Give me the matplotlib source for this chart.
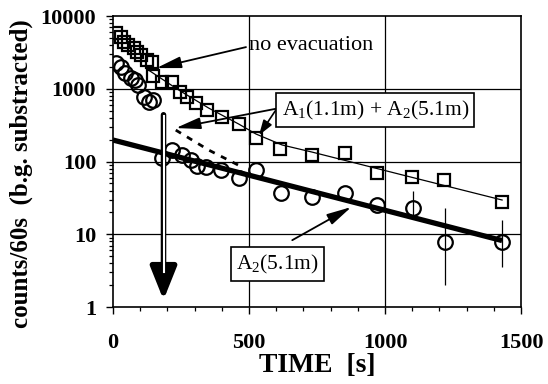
import matplotlib
matplotlib.use("Agg")
import matplotlib.pyplot as plt
import numpy as np
from matplotlib.ticker import FixedLocator, NullFormatter, LogLocator

# ---------------- data ----------------
sq_t = [13, 28, 39, 57, 76, 87, 105, 124, 142, 149, 179, 216, 245, 271, 304, 345,
        400, 463, 526, 615, 733, 854, 972, 1098, 1216, 1430]
sq_c = [5840, 5140, 4390, 3990, 3630, 3200, 2910, 2480, 2330, 1500, 1240, 1240, 902,
        771, 637, 511, 409, 328, 210, 149, 123, 131, 69.5, 61, 55.7, 27.7]

ci_t = [13, 31, 46, 65, 83, 94, 113, 131, 149, 179, 216, 253, 286, 308, 341, 397,
        463, 526, 618, 733, 851, 972, 1102, 1220, 1430]
ci_c = [2260, 1990, 1650, 1400, 1320, 1130, 771, 658, 700, 112, 144, 123, 105, 87,
        84, 76, 59, 76, 37, 32.5, 37, 25, 23, 7.8, 7.8]

# error bars (lower / upper ends) on some circles
err_t = [1102, 1220, 1430]
err_lo = [16, 2.0, 3.5]
err_hi = [40, 23, 15.5]

# fit curve through squares (A1 + A2)
fit2_t = [131, 242, 352, 463, 526, 622, 732, 1053, 1430]
fit2_c = [1810, 962, 544, 327, 239, 169, 135, 67, 29.6]

# A2(5.1m) fit line
fitA2_t = [0, 1430]
fitA2_c = [198, 8.2]

# dashed component
dash_t = [231, 352, 482]
dash_c = [271, 144, 81.5]

x_ticks = [0, 500, 1000, 1500]
y_ticks = [1, 10, 100, 1000, 10000]
y_ticklabels = ["1", "10", "100", "1000", "10000"]

# ---------------- figure ----------------
plt.rcParams['font.family'] = ['Liberation Serif', 'DejaVu Serif']
plt.rcParams['mathtext.fontset'] = 'custom'
plt.rcParams['mathtext.rm'] = 'Liberation Serif'
plt.rcParams['mathtext.it'] = 'Liberation Serif:italic'

fig = plt.figure(figsize=(5.48, 3.84), dpi=100)
ax = fig.add_axes([0.206, 0.2005, 0.745, 0.7575])

ax.set_yscale('log')
ax.set_xlim(0, 1500)
ax.set_ylim(1, 10000)

# grid
for xv in [500, 1000]:
    ax.axvline(xv, color='black', lw=0.9, zorder=1)
for yv in [10, 100, 1000]:
    ax.axhline(yv, color='black', lw=0.9, zorder=1)

# lines
ax.plot(fitA2_t, fitA2_c, color='black', lw=3.8, zorder=3, solid_capstyle='butt')
ax.plot(fit2_t, fit2_c, color='black', lw=0.9, zorder=3)
ax.plot(dash_t, dash_c, color='black', lw=2.0, ls=(0, (2.2, 2.5)), zorder=3)

# error bars
ax.vlines(err_t, err_lo, err_hi, color='black', lw=0.9, zorder=2)

# markers
ax.plot(sq_t, sq_c, ls='none', marker='s', ms=9, mfc='none', mec='black', mew=1.6, zorder=4)
ax.plot(ci_t, ci_c, ls='none', marker='o', ms=10.5, mfc='none', mec='black', mew=1.6, zorder=4)

# ticks
ax.xaxis.set_major_locator(FixedLocator(x_ticks))
ax.xaxis.set_minor_locator(FixedLocator(list(range(0, 1501, 100))))
ax.yaxis.set_major_locator(FixedLocator(y_ticks))
ax.yaxis.set_minor_locator(LogLocator(base=10, subs=np.arange(2, 10)))
ax.yaxis.set_minor_formatter(NullFormatter())
ax.set_yticklabels(y_ticklabels)
ax.set_xticklabels([str(v) for v in x_ticks])
ax.tick_params(axis='both', which='major', direction='out', length=5, width=1.0,
               labelsize=16)
ax.tick_params(axis='y', which='major', pad=7)
ax.tick_params(axis='x', which='major', pad=14)
ax.tick_params(axis='both', which='minor', direction='out', length=3, width=0.9)
for lab in ax.get_xticklabels() + ax.get_yticklabels():
    lab.set_fontweight('bold')
for sp in ax.spines.values():
    sp.set_linewidth(1.2)

ax.set_xlabel('TIME  [s]', fontsize=20, fontweight='bold', labelpad=0)
ax.set_ylabel('counts/60s  (b.g. substracted)', fontsize=18, fontweight='bold')
ax.yaxis.set_label_coords(-0.195, 0.46)

arrow_kw = dict(arrowstyle='-|>,head_length=0.9,head_width=0.3', color='black', lw=1.2,
                shrinkA=0, shrinkB=0)
arrow_big = dict(arrowstyle='-|>,head_length=1.5,head_width=0.35', color='black', lw=1.3,
                 shrinkA=0, shrinkB=0)

# annotations
ax.annotate('', xy=(160, 1930), xytext=(489, 3750), arrowprops=arrow_big, zorder=5)
ax.text(500, 3950, 'no evacuation', fontsize=16, va='center', ha='left')

ax.text(620, 511, r'A$_1$(1.1m) + A$_2$(5.1m)', fontsize=15.5, va='center', ha='left',
        bbox=dict(boxstyle='square,pad=0.25', fc='white', ec='black', lw=1.2), zorder=6)
ax.annotate('', xy=(231, 289), xytext=(611, 543), arrowprops=arrow_big, zorder=5)
ax.annotate('', xy=(537, 231), xytext=(600, 520), arrowprops=arrow_kw, zorder=5)

ax.text(452, 3.9, r'A$_2$(5.1m)', fontsize=15.5, va='center', ha='left',
        bbox=dict(boxstyle='square,pad=0.25', fc='white', ec='black', lw=1.2), zorder=6)
ax.annotate('', xy=(876, 23.7), xytext=(659, 8.3), arrowprops=arrow_big, zorder=5)

# big hollow down arrow
ax.annotate('', xy=(186, 1.25), xytext=(186, 440),
            arrowprops=dict(arrowstyle='-|>,head_length=1.0,head_width=0.4', color='black', lw=4,
                            shrinkA=0, shrinkB=0, mutation_scale=20), zorder=5)
ax.plot([186, 186], [420, 3.0], color='white', lw=1.5, zorder=6)

fig.savefig('out.png', dpi=100)
